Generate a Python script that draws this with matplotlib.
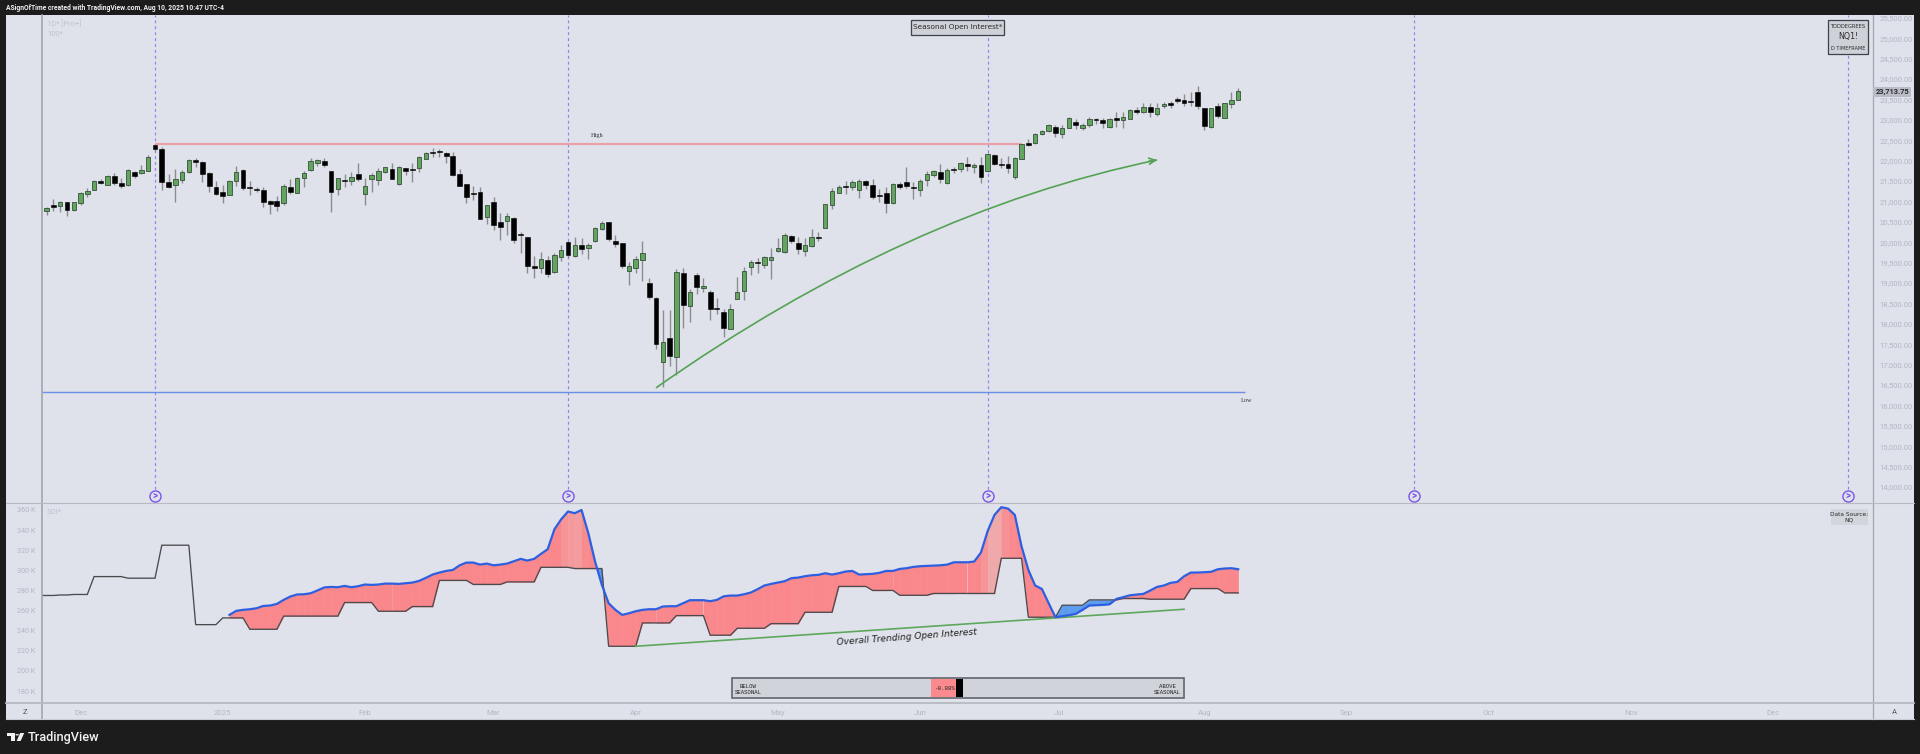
import numpy as np
import matplotlib
matplotlib.use("Agg")
import matplotlib.pyplot as plt
from matplotlib.patches import Rectangle, Polygon, Circle, PathPatch
from matplotlib.path import Path
from matplotlib.ticker import FuncFormatter

W, H = 1920, 754

candle_high = [20870,21050,21020,20990,20985,21240,21320,21525,21540,21655,21690,21580,21795,21745,21890,22130,22405,22340,21670,21785,
21770,22030,22070,22000,21730,21500,21400,21525,21870,21785,21500,21345,21345,21035,21130,21420,21540,21590,21745,22055,
22030,22055,21745,21580,21670,21730,21950,21565,21690,21810,21850,21935,21870,21825,21935,22115,22205,22300,22275,22220,
22220,21785,21425,21380,21360,20910,21100,20710,20710,20610,20260,20135,19660,19770,19660,19725,19930,20030,20120,20095,
19970,20375,20530,20505,20175,19990,19525,19660,20030,19130,18650,18340,18340,19335,19360,18845,19235,19115,18830,18625,
18365,18480,19155,19385,19565,19620,19660,19865,20110,20235,20170,20120,20110,20315,20260,20935,21320,21400,21500,21525,
21540,21525,21540,21295,21360,21460,21485,21835,21485,21540,21755,21770,21915,21810,21850,21975,22080,21935,22080,22180,
22155,22055,22110,22080,22405,22520,22670,22750,22895,22870,22870,23075,23010,22930,23075,23035,23035,23035,23200,23200,
23255,23305,23405,23405,23405,23445,23460,23550,23625,23675,23830,23295,23295,23405,23410,23675,23770]

candle_top = [20830,20920,20975,20975,20975,21205,21255,21510,21490,21630,21630,21450,21770,21730,21770,22080,22390,22285,21475,21540,
21730,22005,22025,21965,21695,21360,21240,21490,21710,21760,21355,21310,21280,21000,21000,21375,21360,21565,21690,21980,
22005,22000,21735,21565,21535,21605,21665,21375,21645,21745,21835,21795,21835,21820,21795,22090,22180,22210,22225,22195,
22115,21670,21420,21205,21230,20905,20985,20505,20635,20585,20200,20125,19415,19595,19555,19695,19800,20015,19930,19930,
19940,20355,20460,20495,20020,19980,19415,19580,19735,19000,18640,17545,17645,19260,19245,18780,19205,18935,18770,18380,
18280,18365,18790,19300,19515,19505,19630,19645,19860,20170,20150,19990,19930,20125,20125,20930,21245,21360,21375,21475,
21510,21490,21400,21155,21195,21435,21435,21485,21360,21510,21680,21735,21720,21770,21795,21935,21915,21900,21885,22155,
22145,21925,21915,22055,22400,22430,22645,22715,22865,22830,22805,23035,22940,22865,23030,23010,23005,23010,23035,23060,
23240,23230,23315,23315,23290,23380,23405,23510,23485,23460,23680,23290,23280,23330,23405,23475,23715]

candle_bottom = [20775,20855,20880,20780,20780,20970,21190,21290,21445,21410,21460,21380,21400,21625,21690,21755,22285,21475,21345,21400,
21525,21710,21975,21670,21385,21190,21130,21165,21500,21335,21330,21280,20985,20930,20895,20950,21220,21215,21565,21770,
21950,21885,21230,21310,21500,21510,21550,21175,21550,21525,21730,21550,21425,21755,21780,21825,22045,22195,22205,22120,
21645,21385,21115,21175,20570,20610,20420,20365,20530,20055,20175,19425,19370,19375,19230,19280,19630,19685,19670,19840,
19865,20030,20315,20080,19955,19425,19295,19375,19570,18650,17505,17070,17220,17195,18450,18435,18900,18870,18355,18365,
17900,17880,18615,18810,19385,19490,19450,19570,19790,19750,20030,19840,19775,19900,20095,20355,20920,21215,21345,21360,
21270,21410,21115,21125,20950,20950,21345,21375,21335,21280,21525,21655,21555,21440,21770,21795,21865,21835,21605,21735,
21915,21900,21810,21600,22045,22380,22425,22645,22715,22670,22660,22805,22865,22800,22870,22985,22930,22825,23005,22985,
23030,23200,23190,23200,23150,23345,23365,23460,23420,23430,23340,22850,22815,23100,23050,23395,23495]

candle_low = [20665,20765,20750,20650,20765,20920,21115,21280,21420,21395,21400,21335,21385,21580,21665,21735,22245,21280,21320,20995,
21460,21705,21850,21485,21240,21155,20970,21150,21375,21280,21155,21240,20855,20685,20755,20905,21175,21195,21345,21755,
21870,21835,20740,21150,21345,21400,21510,20910,21240,21400,21705,21540,21400,21655,21485,21730,22030,22080,22080,21935,
21630,21380,20970,21035,20560,20445,20300,20055,20175,19990,19745,19255,19130,19255,19155,19255,19550,19605,19645,19710,
19580,20015,20300,20040,19890,19360,18950,19235,19055,18600,17375,16460,16965,16745,17905,18050,18720,18790,18090,18240,
17685,17865,18610,18585,19195,19235,19375,19090,19770,19735,19970,19710,19670,19875,20030,20345,20805,21195,21180,21280,
21090,21295,21050,20995,20710,20935,21295,21320,21050,21140,21375,21590,21460,21425,21690,21720,21750,21690,21460,21720,
21900,21810,21705,21540,22030,22360,22400,22620,22690,22585,22560,22790,22765,22750,22830,22895,22805,22790,22830,22805,
23010,23135,23165,23075,23100,23280,23280,23405,23345,23340,23255,22750,22805,23035,23035,23295,23475]

candle_dir = ("GKGKGGGGKG" "KKGKGGKKKG" "GGKKKKKGGK" "KKKKKGKGGG" "GKKGKGKGGG" "GKGKKGGKKK"
              "KKKKKGKKGK" "KKKGKGGKGK" "GGGKKKGGGK" "KGKGKGKGKK" "KGGGGKGGGG" "KKGGKGGGKG"
              "GKKKKGKKKG" "GGKGKGKGKG" "KKKGGKGGGK" "GGKGGKKGKG" "GKGKGGKKKK" "KKGKGGG")

oi_actual = [255.7,259.7,260.7,261.3,262.3,264.6,265,266.6,270.6,274,276,276.2,277.2,280,283,283.5,283.2,284.5,283.2,284.2,
285.9,285.5,285.9,286.8,286.8,286.5,287.2,287.8,289.5,292.5,295.8,297.8,299.4,300.4,305,307.7,307.7,305.7,306.7,305,
305.7,306.7,309,311.4,309.7,311.4,316.3,321,340.9,350.8,358.5,356.8,360,337,308.7,285.5,267.3,260.7,255.7,257.3,
259.3,260.7,261.3,261.3,264,264.3,264.3,267.3,270.3,270.3,270.3,269.3,270.6,274.2,274.9,274.9,276.2,277.9,281.2,284.9,
286.5,287.8,289.2,292.2,292.8,294.1,295.1,295.5,297.1,295.8,297.1,298.8,299.4,295.8,296.1,296.5,297.5,299.4,299.4,301.4,
302.1,303.4,304.1,304.4,304.7,305,305.7,308,308,308,308.7,317.7,339.2,355.1,362.8,361.4,355.1,323.6,300.4,284.9,
281.5,267.3,253.4,254.4,255.4,256.7,260.7,265,265.3,265.6,266.3,271.6,273.3,275.2,275.9,276.6,279.9,283.5,284.9,287.5,
288.5,294.1,297.8,297.8,298.1,298.5,301.1,301.8,302.1,301.1]
oi_first_bar = 27

seasonal_levels = [275,275.5,276,293.8,292.2,325,246,252.7,241.4,254.5,268,259.3,264,290,286,288.5,303,301.8,224.5,247.7,
                   255,235.5,242.4,247,258.3,284,280,275.2,277,312,253.4,265.3,270.6,272,271.3,281.9,277.6]
seasonal_runs = [3,2,3,5,5,5,4,4,5,9,5,5,4,5,5,5,5,5,5,5,
                 5,4,5,5,5,5,4,5,10,4,5,4,5,4,6,5,3]
seasonal_first_bar = -1

price_ticks = list(range(14000, 25501, 500))
oi_ticks = list(range(180, 361, 20))
month_labels = ["Dec","2025","Feb","Mar","Apr","May","Jun","Jul","Aug","Sep","Oct","Nov","Dec"]
month_bars = [5.1,26,47,66,87,108,129,149.5,171,192,213,234,255]
event_bars = [16,77,139,202,266]
high_price, low_price = 22405, 16328
last_price = 23713.75
arrow_bars = [90,126.9,164]
arrow_prices = [16430,20740,22015]
trend_bars = [87,168]
trend_oi = [224.5,261.3]

BG = "#1c1c1d"; PANEL = "#dfe2ea"; SEP = "#b7bac3"; TICK = "#b4b7c2"
GREEN = "#62a55f"; EVENT = "#8e80ee"

plt.rcParams["font.family"] = ["Roboto", "DejaVu Sans"]
fig = plt.figure(figsize=(W/100, H/100), dpi=100, facecolor=BG)

def fx(px): return px / W
def fy(py): return 1 - py / H
def axes_px(l, t, r, b):
    return fig.add_axes([fx(l), fy(b), (r-l)/W, (b-t)/H])
def box(l, t, r, b, fc, ec="none", lw=0, z=5):
    fig.add_artist(Rectangle((fx(l), fy(b)), (r-l)/W, (b-t)/H, transform=fig.transFigure,
                             facecolor=fc, edgecolor=ec, linewidth=lw, zorder=z))
def label(px, py, s, size=5, color="#222", ha="center", va="center", z=6, **kw):
    fig.text(fx(px), fy(py), s, fontsize=size, color=color, ha=ha, va=va, zorder=z, **kw)

# chart card
box(6, 15, 1914, 719, PANEL, z=0)

# main pane: x in bar index, y in price
L, R = 42, 1873
xlim = ((L-46.7)/6.77, (R-46.7)/6.77)
ax = axes_px(L, 15, R, 503)
ax.set_xlim(*xlim)
ax.set_ylim(14000-16*24.51, 14000+472*24.51)
ax.patch.set_alpha(0)
for s in ax.spines.values(): s.set_visible(False)
ax.set_xticks([])
ax.yaxis.tick_right()
ax.set_yticks(price_ticks)
ax.yaxis.set_major_formatter(FuncFormatter(lambda v, _: f"{v:,.2f}"))
ax.tick_params(axis="y", length=0, pad=4.5, labelsize=5.5, labelcolor=TICK)

bars = np.arange(len(candle_high))
is_up = np.array([c == "G" for c in candle_dir])
high = np.array(candle_high); low = np.array(candle_low)
top = np.array(candle_top); bottom = np.array(candle_bottom)
ax.vlines(bars, low, high, color="#8a8c90", lw=1.0, zorder=2)
ax.bar(bars[is_up], (top-bottom)[is_up], bottom=bottom[is_up], width=0.66,
       color=GREEN, edgecolor="#37503a", linewidth=0.6, zorder=3)
ax.bar(bars[~is_up], np.maximum((top-bottom)[~is_up], 25), bottom=bottom[~is_up], width=0.72,
       color="black", edgecolor="black", linewidth=0.4, zorder=3)

for b in event_bars:
    ax.axvline(b, ymin=0.016, color=EVENT, lw=0.85, ls=(0, (2.4, 2.6)), zorder=1)
    ax.plot([b], [0.0143], transform=ax.get_xaxis_transform(), marker="o", ms=8.0, mfc=PANEL,
            mec="#7a55e8", mew=1.0, zorder=4, clip_on=False)
    ax.text(b, 0.0143, ">", transform=ax.get_xaxis_transform(), fontsize=7, color="#7a55e8",
            ha="center", va="center", fontweight="bold", zorder=5)

ax.hlines(high_price, 16, 144, color="#e9a3a8", lw=1.6, zorder=1)
ax.hlines(low_price, xlim[0], 177, color="#6a8fe8", lw=1.0, zorder=1)
ax.text(81.3, high_price+215, "High", fontsize=4.6, family="Liberation Serif", color="#333", ha="center", va="center")
ax.text(177.2, low_price-215, "Low", fontsize=4.6, family="Liberation Serif", color="#333", ha="center", va="center")

# curved arrow: the drawing tool's start, control and end handles
handles = list(zip(arrow_bars, arrow_prices))
ax.add_patch(PathPatch(Path(handles, [Path.MOVETO, Path.CURVE3, Path.CURVE3]), fc="none", ec="#55a255", lw=1.2, zorder=2))
ax.annotate("", xy=handles[-1], xytext=(handles[-1][0]-1.2, handles[-1][1]-30),
            arrowprops=dict(arrowstyle="->", color="#55a255", lw=1.2, mutation_scale=11, shrinkA=0, shrinkB=0), zorder=2)

# open interest pane
ax2 = axes_px(L, 503, R, 703)
ax2.set_xlim(*xlim)
ax2.set_ylim(360-(703-510)/1.0056, 360+7/1.0056)
ax2.patch.set_alpha(0)
for s in ax2.spines.values(): s.set_visible(False)
ax2.set_yticks(oi_ticks)
ax2.set_yticklabels([f"{t} K" for t in oi_ticks])
ax2.tick_params(axis="y", length=0, pad=5, labelsize=5.2, labelcolor=TICK)
ax2.set_xticks(month_bars)
ax2.set_xticklabels(month_labels)
ax2.tick_params(axis="x", length=0, pad=5.2, labelsize=5.6, labelcolor=TICK)

seasonal = np.repeat(seasonal_levels, seasonal_runs)
s_x = seasonal_first_bar + np.arange(len(seasonal))
oi = np.array(oi_actual)
oi_x = oi_first_bar + np.arange(len(oi))
s_on_oi = seasonal[oi_x - seasonal_first_bar]

red = np.array(matplotlib.colors.to_rgb("#fa878b")); pale = np.array(matplotlib.colors.to_rgb("#f0a9ab"))
BLUE_FILL = "#5c9cf0"
for k in range(len(oi)-1):
    xx = oi_x[k:k+2]; a = oi[k:k+2]; b = s_on_oi[k:k+2]
    gap = max(a.mean()-b.mean(), 0)
    t = np.clip((gap-44)/20, 0, 1)
    col = red*(1-t) + pale*t
    if (a >= b).all():
        ax2.fill_between(xx, a, b, color=col, lw=0.3, zorder=1)
    elif (a <= b).all():
        ax2.fill_between(xx, a, b, color=BLUE_FILL, lw=0.3, zorder=1)
    else:
        f = (a[0]-b[0]) / ((a[0]-b[0]) - (a[1]-b[1]))
        xc = xx[0] + f; yc = a[0] + f*(a[1]-a[0])
        for part_x, pa, pb in (([xx[0], xc], [a[0], yc], [b[0], yc]), ([xc, xx[1]], [yc, a[1]], [yc, b[1]])):
            c = col if pa[0] > pb[0] or pa[1] > pb[1] else BLUE_FILL
            ax2.fill_between(part_x, pa, pb, color=c, lw=0.3, zorder=1)
ax2.plot(s_x, seasonal, color="#4b4b4e", lw=0.95, zorder=2, solid_joinstyle="miter")
ax2.plot(oi_x, oi, color="#2d5fe0", lw=1.6, zorder=3)
ax2.plot(trend_bars, trend_oi, color="#5ea85e", lw=1.2, zorder=2)
ax2.text(127.0, 233.5, "Overall Trending Open Interest", fontsize=6.6, family="DejaVu Sans", style="italic",
         color="#1f1f1f", rotation=4.3, rotation_mode="anchor", ha="center", va="center", zorder=4)

# frame lines
for x0 in (L, R):
    fig.add_artist(plt.Line2D([fx(x0)]*2, [fy(15), fy(719)], color="#a2a5ad", lw=1.2 if x0 == L else 0.9, zorder=4))
fig.add_artist(plt.Line2D([fx(6), fx(1914)], [fy(503)]*2, color=SEP, lw=0.8, zorder=4))
fig.add_artist(plt.Line2D([fx(6), fx(1914)], [fy(703)]*2, color=SEP, lw=1.3, zorder=4))
fig.add_artist(plt.Line2D([fx(6), fx(1914)], [fy(719)]*2, color="#c9ccd3", lw=0.8, zorder=4))

# header / footer
label(5.5, 8, "ASignOfTime created with TradingView.com, Aug 10, 2025 10:47 UTC-4", size=4.9, color="#f0f0f0", ha="left", fontweight="bold")
label(28, 737, "TradingView", size=9.2, color="#f2f2f2", ha="left", fontweight="medium")
for shape in ([(7,733),(14.7,733),(14.7,741),(10.6,741),(10.6,736.2),(7,736.2)],
              [(16.6,741),(20.2,733),(24.2,733),(20.6,741)]):
    fig.add_artist(Polygon([(fx(a), fy(b)) for a, b in shape], transform=fig.transFigure, fc="#f2f2f2", ec="none", zorder=6))
fig.add_artist(Circle((fx(17.2), fy(734.8)), 1.8/W, transform=fig.transFigure, fc="#f2f2f2", ec="none", zorder=6))

# pane legends and corner letters
label(47, 24, "1D* [Pro+]", size=5.4, color="#c0c3cd", ha="left")
label(47, 34, "100*", size=5.4, color="#c0c3cd", ha="left")
label(47, 512, "SOI*", size=5.4, color="#c0c3cd", ha="left")
label(24.5, 712, "Z", size=5.5, color="#555")
label(1894, 712, "A", size=5.5, color="#555")

# title card
box(911, 20, 1004, 35, "#ced1d8", "#3f4248", 0.9)
label(957.5, 27.5, "Seasonal Open Interest*", size=5.3, color="#2a2a2a", family="DejaVu Sans")

# symbol card
box(1828, 20, 1868, 54, "#ced1d8", "#3f4248", 0.9)
label(1848, 26, "TODDEGREES", size=3.7, color="#2a2a2a", family="DejaVu Sans")
label(1848, 37, "NQ1!", size=5.7, color="#2a2a2a", family="DejaVu Sans")
label(1848, 49, "D TIMEFRAME", size=3.6, color="#2a2a2a", family="DejaVu Sans")

# data source card
box(1831, 509, 1868, 525, "#d2d5dc")
label(1849, 515, "Data Source:", size=4.2, color="#2a2a2a", family="DejaVu Sans")
label(1849, 520.5, "NQ", size=4.2, color="#2a2a2a", family="DejaVu Sans")

# last price tag
box(1873, 87, 1911, 97, "#b9bcc5", z=7)
label(1892.5, 92, f"{last_price:,.2f}", size=5.4, color="#2c2c30", z=8, fontweight="bold")

# gauge
box(732, 678, 1183.5, 698, "#d0d3da", "#62656d", 1.2)
box(931, 679, 956, 697, "#fa8a8e", z=6)
box(956, 679, 962.5, 697, "#000000", z=6)
label(944.5, 688, "-0.08%", size=4.2, color="#222", family="Liberation Mono", z=7)
label(740, 686, "BELOW", size=4.1, family="Liberation Mono", ha="left")
label(735, 692, "SEASONAL", size=4.1, family="Liberation Mono", ha="left")
label(1176, 686, "ABOVE", size=4.1, family="Liberation Mono", ha="right")
label(1181, 692, "SEASONAL", size=4.1, family="Liberation Mono", ha="right")

fig.savefig("out.png", dpi=100, facecolor=BG)
